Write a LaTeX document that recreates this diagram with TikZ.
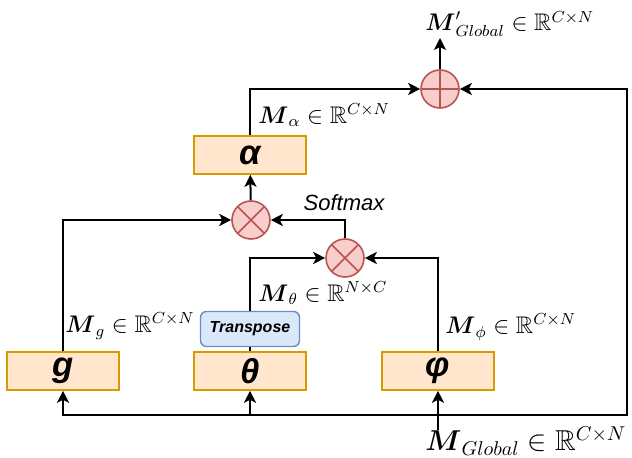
\documentclass[tikz,border=0pt]{standalone}
\usepackage{fontspec}
\usepackage{amsmath,amssymb}
\newfontfamily\blockfont{Liberation Sans}
\usetikzlibrary{arrows.meta, positioning, calc}
\definecolor{blockfill}{HTML}{FFE6CC}
\definecolor{blockedge}{HTML}{D79B00}
\definecolor{opfill}{HTML}{F8CECC}
\definecolor{opedge}{HTML}{B85450}
\definecolor{transfill}{HTML}{DAE8FC}
\definecolor{transedge}{HTML}{6C8EBF}

\begin{document}
\begin{tikzpicture}[
    x=0.5pt, y=-0.5pt,
    block/.style={rectangle, draw=blockedge, fill=blockfill, line width=0.8pt,
                  minimum width=56pt, minimum height=19pt, inner sep=0pt,
                  font=\blockfont\bfseries\itshape\LARGE},
    transbox/.style={rectangle, draw=transedge, fill=transfill, line width=0.7pt,
                     rounded corners=3pt, minimum width=49.5pt, minimum height=17.5pt,
                     inner sep=0pt, font=\blockfont\bfseries\itshape\footnotesize},
    mulop/.style={circle, draw=opedge, fill=opfill, line width=0.8pt,
                  minimum size=19pt, inner sep=0pt,
                  path picture={\draw[opedge, line width=0.8pt]
                    (path picture bounding box.north west) -- (path picture bounding box.south east)
                    (path picture bounding box.north east) -- (path picture bounding box.south west);}},
    addop/.style={circle, draw=opedge, fill=opfill, line width=0.8pt,
                  minimum size=19pt, inner sep=0pt,
                  path picture={\draw[opedge, line width=0.8pt]
                    (path picture bounding box.north) -- (path picture bounding box.south)
                    (path picture bounding box.west) -- (path picture bounding box.east);}},
    arrow/.style={-{Stealth[length=6pt, width=6pt, inset=1.5pt]}, line width=1pt},
    link/.style={line width=1pt},
    lbl/.style={anchor=west, inner sep=0pt, font=\large},
]
\useasboundingbox (0,0) rectangle (632,458);

% blocks
\node[block] (g) at (63,371) {g};
\node[block] (theta) at (250,371) {θ};
\node[block] (phi) at (438,371) {φ};
\node[block] (alpha) at (250,155) {α};
\node[transbox] (tr) at (250,329) {Transpose};

% operators
\node[mulop] (mulA) at (251,220) {};
\node[mulop] (mulB) at (345,258) {};
\node[addop] (add) at (440,89) {};

% free ends
\coordinate (in) at (438,430);
\coordinate (br) at (627,415);
\coordinate (out) at (440,38);

% input fan-out
\draw[arrow] (in) -- (phi);
\draw[arrow] (in |- br) -| (g);
\draw[arrow] (theta |- br) -- (theta);
\draw[arrow] (in |- br) -- (br) |- (add);

% attention
\draw[link] (theta) -- (tr);
\draw[arrow] (tr) |- (mulB);
\draw[arrow] (phi) |- (mulB);
\draw[arrow] (mulB) |- (mulA);
\draw[arrow] (g) |- (mulA);
\draw[arrow] (mulA) -- (alpha);
\draw[arrow] (alpha) |- (add);
\draw[arrow] (add) -- (out);

% labels
\node[lbl] (lout) at (425,24) {$\boldsymbol{M}'_{Global} \in \mathbb{R}^{C\times N}$};
\node[lbl] (lalpha) at (258,115) {$\boldsymbol{M}_\alpha \in \mathbb{R}^{C\times N}$};
\node[font=\blockfont\itshape\fontsize{11}{13}\selectfont] (soft) at (344,203) {Softmax};
\node[lbl] (ltheta) at (258,293) {$\boldsymbol{M}_\theta \in \mathbb{R}^{N\times C}$};
\node[lbl] (lg) at (65,326) {$\boldsymbol{M}_g \in \mathbb{R}^{C\times N}$};
\node[lbl] (lphi) at (445,327) {$\boldsymbol{M}_\phi \in \mathbb{R}^{C\times N}$};
\node[lbl, font=\Large] (lin) at (425,441) {$\boldsymbol{M}_{Global} \in \mathbb{R}^{C\times N}$};

\end{tikzpicture}
\end{document}
